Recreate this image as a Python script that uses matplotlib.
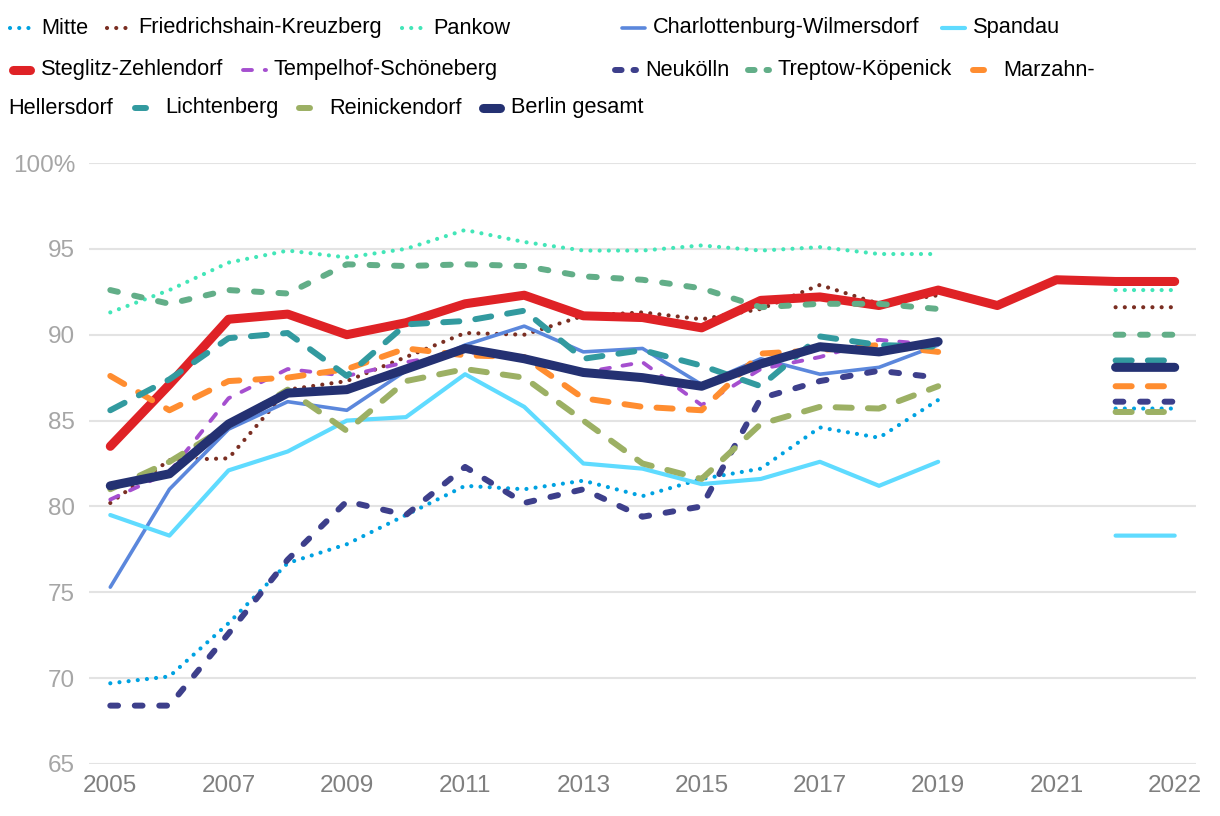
import numpy as np
import matplotlib.pyplot as plt
from matplotlib.lines import Line2D

plt.rcParams['font.family'] = ['Liberation Sans', 'DejaVu Sans']

nan = np.nan

# categories: 2005..2021, then the 2022 value is drawn over two slots
tick_pos = [0, 2, 4, 6, 8, 10, 12, 14, 16, 18]
tick_labels = ['2005', '2007', '2009', '2011', '2013', '2015', '2017', '2019', '2021', '2022']
x = np.arange(19)

mitte = [69.7, 70.1, 73.2, 76.7, 77.8, 79.5, 81.2, 81.0, 81.5, 80.6, 81.6, 82.2, 84.6, 84.0, 86.2, nan, nan, 85.7, 85.7]
fk = [80.2, 82.7, 82.8, 86.8, 87.3, 88.7, 90.1, 90.0, 91.1, 91.3, 90.9, 91.5, 92.9, 91.8, 92.3, nan, nan, 91.6, 91.6]
pankow = [91.3, 92.6, 94.2, 94.9, 94.5, 95.0, 96.1, 95.4, 94.9, 94.9, 95.2, 94.9, 95.1, 94.7, 94.7, nan, nan, 92.6, 92.6]
charl = [75.3, 81.0, 84.5, 86.1, 85.6, 87.9, 89.4, 90.5, 89.0, 89.2, 87.1, 88.6, 87.7, 88.1, 89.4, nan, nan, nan, nan]
spandau = [79.5, 78.3, 82.1, 83.2, 85.0, 85.2, 87.7, 85.8, 82.5, 82.2, 81.3, 81.6, 82.6, 81.2, 82.6, nan, nan, 78.3, 78.3]
steglitz = [83.5, 87.1, 90.9, 91.2, 90.0, 90.7, 91.8, 92.3, 91.1, 91.0, 90.4, 92.0, 92.2, 91.7, 92.6, 91.7, 93.2, 93.1, 93.1]
tempelhof = [80.4, 82.0, 86.3, 88.0, 87.6, 88.4, 89.0, 88.7, 87.8, 88.4, 85.9, 88.0, 88.7, 89.7, 89.4, nan, nan, nan, nan]
neukoelln = [68.4, 68.4, 72.6, 76.9, 80.3, 79.5, 82.3, 80.2, 81.0, 79.4, 80.0, 86.3, 87.3, 87.9, 87.5, nan, nan, 86.1, 86.1]
treptow = [92.6, 91.8, 92.6, 92.4, 94.1, 94.0, 94.1, 94.0, 93.4, 93.2, 92.7, 91.6, 91.8, 91.8, 91.5, nan, nan, 90.0, 90.0]
marzahn = [87.6, 85.6, 87.3, 87.5, 88.0, 89.2, 88.8, 88.7, 86.3, 85.8, 85.6, 88.9, 89.1, 89.4, 89.0, nan, nan, 87.0, 87.0]
lichtenberg = [85.6, 87.4, 89.8, 90.1, 87.6, 90.6, 90.8, 91.4, 88.6, 89.1, 88.2, 87.0, 89.9, 89.4, 89.3, nan, nan, 88.5, 88.5]
reinickendorf = [81.0, 82.6, 84.7, 86.8, 84.4, 87.3, 88.0, 87.5, 85.0, 82.5, 81.6, 84.8, 85.8, 85.7, 87.0, nan, nan, 85.5, 85.5]
berlin = [81.2, 81.9, 84.8, 86.6, 86.8, 88.0, 89.2, 88.6, 87.8, 87.5, 87.0, 88.3, 89.3, 89.0, 89.6, nan, nan, 88.1, 88.1]

dot = (0, (0.01, 2.2))
short_dash = (0, (1.3, 2.8))
long_dash = (0, (2.7, 2.7))
thin_dash = (0, (2.3, 3.3))

series = [
    ('Mitte', mitte, '#00A2E1', 3.0, dot),
    ('Friedrichshain-Kreuzberg', fk, '#7A2E22', 3.0, dot),
    ('Pankow', pankow, '#43E6B8', 3.0, dot),
    ('Charlottenburg-Wilmersdorf', charl, '#5B87DC', 2.6, '-'),
    ('Spandau', spandau, '#5FDBFF', 3.0, '-'),
    ('Steglitz-Zehlendorf', steglitz, '#DF2226', 6.5, '-'),
    ('Tempelhof-Schöneberg', tempelhof, '#A54FCF', 2.8, thin_dash),
    ('Neukölln', neukoelln, '#3D3F8B', 4.3, short_dash),
    ('Treptow-Köpenick', treptow, '#62AE88', 4.3, short_dash),
    ('Marzahn-Hellersdorf', marzahn, '#FF8D30', 4.3, long_dash),
    ('Lichtenberg', lichtenberg, '#329A9F', 4.3, long_dash),
    ('Reinickendorf', reinickendorf, '#9CB064', 4.3, long_dash),
    ('Berlin gesamt', berlin, '#243172', 6.5, '-'),
]

W, H = 1220, 816
fig = plt.figure(figsize=(W / 100, H / 100), dpi=100)
ax = fig.add_axes([89 / W, 1 - 764 / H, (1196 - 89) / W, (764 - 163) / H])

styles = {}
for name, vals, color, lw, ls in series:
    ax.plot(x, vals, color=color, lw=lw, linestyle=ls,
            solid_capstyle='round', dash_capstyle='round',
            solid_joinstyle='round', label=name)
    styles[name] = (color, lw, ls)

ax.set_xlim(-0.36, 18.36)
ax.set_ylim(65, 100)
ax.set_yticks([65, 70, 75, 80, 85, 90, 95, 100])
ax.set_yticklabels(['65', '70', '75', '80', '85', '90', '95', '100%'])
ax.set_xticks(tick_pos)
ax.set_xticklabels(tick_labels)
ax.grid(axis='y', color='#E3E3E3', lw=1.5)
ax.set_axisbelow(True)
for s in ax.spines.values():
    s.set_visible(False)
ax.tick_params(axis='y', length=0, pad=10, labelsize=17.5, labelcolor='#A6A6A6')
ax.tick_params(axis='x', length=0, pad=8, labelsize=17.5, labelcolor='#7F7F7F')

# legend, laid out like the original (wrapped rows)
legend_font = 15.7


def add_key(name, x0, y0, hlen=27, label=None, ls=None):
    color, lw, line_ls = styles[name]
    cap = lw * 100 / 72 / 2
    fig.add_artist(Line2D([(x0 + cap) / W, (x0 + hlen - cap) / W],
                          [1 - y0 / H, 1 - y0 / H],
                          transform=fig.transFigure, color=color,
                          lw=lw, linestyle=ls or line_ls,
                          solid_capstyle='round', dash_capstyle='round'))
    fig.text((x0 + 33) / W, 1 - y0 / H, label or name, fontsize=legend_font,
             va='center', ha='left', color='black')


key_dash = (0, (1.1, 2.0))

add_key('Mitte', 8, 28)
add_key('Friedrichshain-Kreuzberg', 105, 28)
add_key('Pankow', 400, 28)
add_key('Charlottenburg-Wilmersdorf', 620, 28)
add_key('Spandau', 940, 28)
add_key('Steglitz-Zehlendorf', 8, 70)
add_key('Tempelhof-Schöneberg', 241, 70)
add_key('Neukölln', 612, 70, ls=key_dash)
add_key('Treptow-Köpenick', 745, 70, ls=key_dash)
add_key('Marzahn-Hellersdorf', 970, 70, hlen=17, label='Marzahn-')
fig.text(8 / W, 1 - 108 / H, 'Hellersdorf', fontsize=legend_font, va='center', ha='left')
add_key('Lichtenberg', 132, 108, hlen=17)
add_key('Reinickendorf', 296, 108, hlen=17)
add_key('Berlin gesamt', 478, 108)

fig.savefig('out.png', dpi=100)
